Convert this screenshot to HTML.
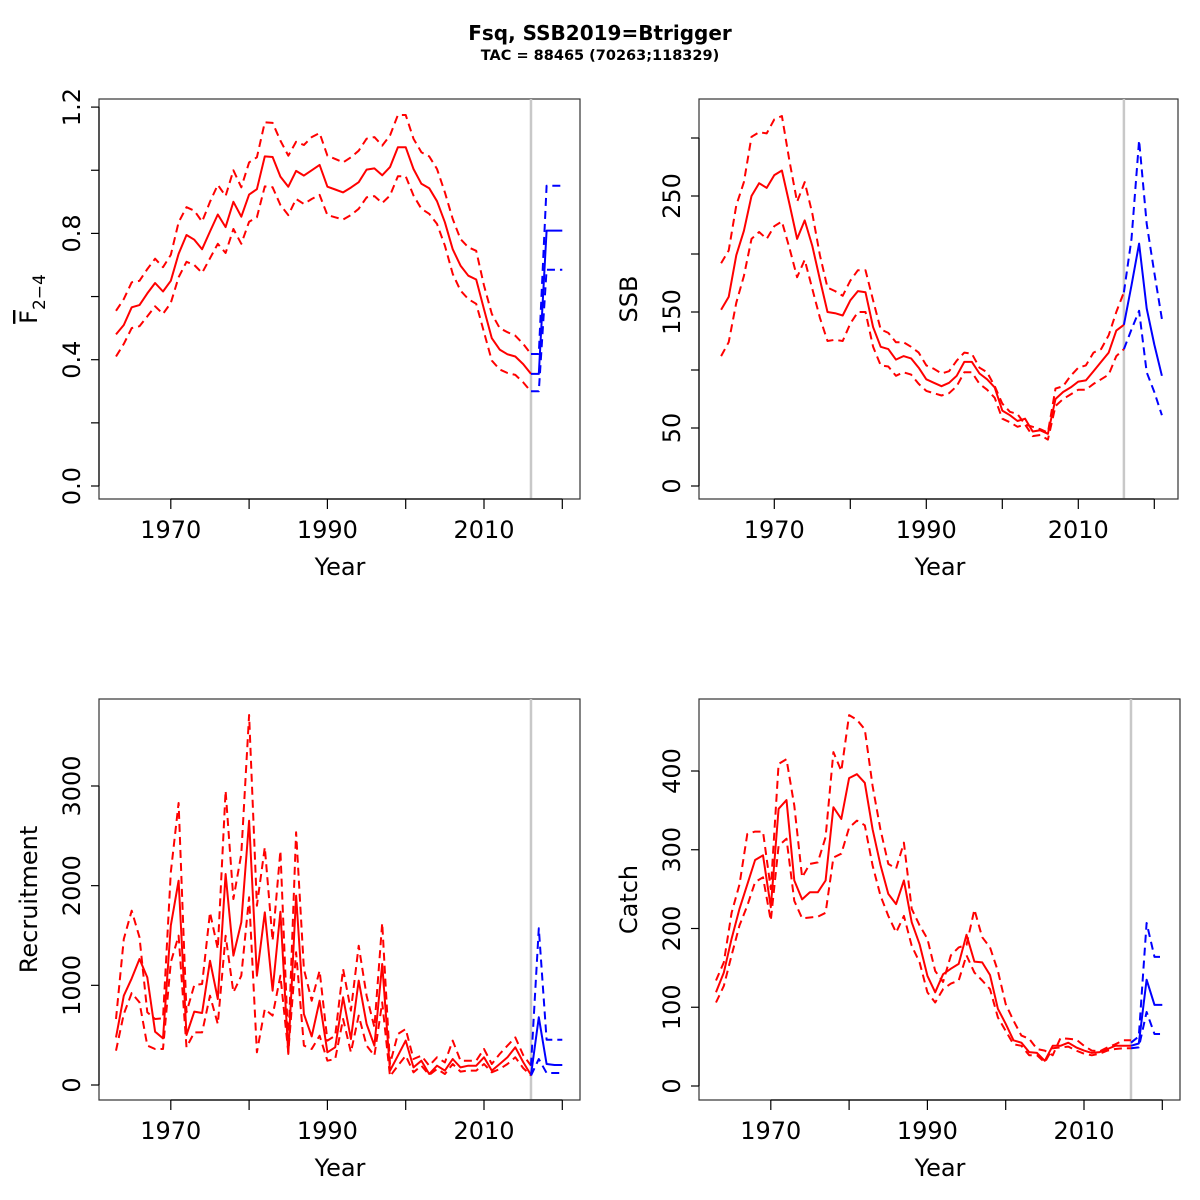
<!DOCTYPE html>
<html><head><meta charset="utf-8"><style>
html,body{margin:0;padding:0;background:#fff;}
svg{display:block;font-family:"DejaVu Sans","Liberation Sans",sans-serif;}
</style></head><body>
<svg id="chart" width="1200" height="1200" viewBox="0 0 1200 1200" xmlns="http://www.w3.org/2000/svg">
<rect width="1200" height="1200" fill="#fff"/>
<text x="600" y="40" text-anchor="middle" font-size="20" font-weight="bold">Fsq, SSB2019=Btrigger</text>
<text x="600" y="60" text-anchor="middle" font-size="14.5" font-weight="bold">TAC = 88465 (70263;118329)</text>
</svg>
<script>
const histStart = 1963;
const projStart = 2016;
// Panel 1: mean F (ages 2-4)
const fMid = [0.48,0.51,0.566,0.573,0.61,0.643,0.616,0.65,0.735,0.795,0.78,0.75,0.806,0.86,0.82,0.9,0.853,0.923,0.94,1.044,1.042,0.98,0.948,0.998,0.983,1.0,1.017,0.948,0.939,0.93,0.945,0.962,1.002,1.006,0.984,1.01,1.073,1.073,1.004,0.957,0.943,0.902,0.835,0.75,0.698,0.666,0.654,0.56,0.468,0.432,0.417,0.41,0.386,0.355];
const fUp = [0.555,0.592,0.645,0.65,0.687,0.72,0.693,0.732,0.835,0.883,0.872,0.837,0.9,0.954,0.918,1.0,0.946,1.025,1.041,1.152,1.15,1.094,1.046,1.09,1.08,1.105,1.118,1.046,1.036,1.025,1.041,1.062,1.1,1.105,1.078,1.11,1.175,1.175,1.1,1.057,1.044,1.004,0.93,0.846,0.782,0.756,0.745,0.635,0.545,0.5,0.487,0.476,0.45,0.418];
const fLo = [0.41,0.45,0.5,0.506,0.537,0.569,0.545,0.58,0.661,0.71,0.7,0.675,0.721,0.767,0.738,0.814,0.767,0.837,0.851,0.949,0.946,0.89,0.858,0.909,0.893,0.909,0.922,0.858,0.851,0.844,0.858,0.878,0.914,0.918,0.896,0.92,0.981,0.981,0.92,0.878,0.862,0.83,0.761,0.672,0.619,0.592,0.577,0.487,0.397,0.369,0.358,0.352,0.328,0.299];
const fProjMid = [0.355,0.355,0.809,0.809,0.809];
const fProjUp = [0.418,0.418,0.951,0.951,0.951];
const fProjLo = [0.3,0.3,0.685,0.685,0.685];
const fTicks = [0,0.2,0.4,0.6,0.8,1.0,1.2];
const fTickLabels = ["0.0","","0.4","","0.8","","1.2"];
// Panel 2: SSB
const ssbMid = [152,163,199,220,250,261,257,268,272,243,213,229,207,178,150,149,147,160,168,167,137,120,118,109,112,110,102,92,89,86,89,95,107,107,97,92,85,65,61,56,58,47,48,45,75,81,85,90,91,99,107,115,134,139];
const ssbUp = [192,203,242,262,301,305,304,316,319,280,245,262,235,199,171,168,164,177,186,186,160,135,132,124,124,120,115,104,101,97,99,108,115,114,102,98,86,71,64,62,53,51,49,46,84,86,95,102,104,115,118,130,150,167];
const ssbLo = [112,124,158,181,213,219,213,224,228,205,180,195,170,145,125,126,125,140,150,150,120,104,103,95,98,96,88,82,80,78,80,86,98,98,88,83,76,58,55,51,53,43,44,40,69,75,79,83,83,88,92,96,112,118];
const ssbProjMid = [139,173,209,153,122,95];
const ssbProjUp = [167,213,298,226,184,144];
const ssbProjLo = [118,135,151,98,81,61];
const ssbTicks = [0,50,100,150,200,250,300];
const ssbTickLabels = ["0","50","","150","","250",""];
// Panel 3: Recruitment
const recMid = [478,896,1070,1264,1080,535,468,1599,2050,502,736,722,1247,863,2117,1298,1632,2652,1097,1732,946,1739,311,1900,712,488,846,328,378,880,462,1047,612,395,1214,144,294,445,177,244,110,194,144,261,177,194,194,278,144,211,278,378,230,100];
const recUp = [662,1465,1749,1482,729,662,669,2134,2829,729,1003,1013,1732,1365,2953,1866,2318,3712,1799,2385,1448,2351,395,2535,1164,846,1147,445,495,1164,746,1398,896,579,1625,211,512,562,261,294,194,278,227,445,244,244,244,361,211,311,395,478,300,194];
const recLo = [344,712,923,829,395,361,361,1231,1498,378,528,528,896,612,1498,930,1097,1883,328,763,696,1097,328,1331,395,361,495,244,261,662,328,696,395,294,829,87,194,294,127,194,100,161,110,211,134,144,144,211,127,161,211,278,170,94];
const recProjMid = [100,679,211,201,201];
const recProjUp = [194,1572,455,455,455];
const recProjLo = [94,261,120,120,120];
const recTicks = [0,1000,2000,3000];
const recTickLabels = ["0","1000","2000","3000"];
// Panel 4: Catch
const catMid = [119,144,187,225,256,287,293,227,352,363,261,237,246,246,261,354,339,391,396,385,326,281,244,231,261,208,180,140,119,142,149,155,192,158,157,141,98,79,58,55,43,42,32,51,51,55,49,45,42,43,47,51,51,51];
const catUp = [134,157,220,256,320,323,323,250,409,415,356,265,282,284,316,424,400,471,465,453,381,326,282,276,309,225,204,187,146,132,166,176,179,224,189,176,146,104,83,64,60,47,45,39,61,60,59,51,45,44,49,53,58,58];
const catLo = [106,127,166,204,229,259,265,210,305,314,235,213,214,215,220,290,295,328,337,331,280,242,216,195,216,178,157,119,106,123,130,134,166,144,134,123,87,70,53,51,39,39,30,48,49,50,45,41,39,41,45,47,48,48];
const catProjMid = [51,54,135,103,103];
const catProjUp = [55,63,207,164,164];
const catProjLo = [48,49,94,66,66];
const catTicks = [0,100,200,300,400];
const catTickLabels = ["0","100","200","300","400"];

const xTicks = [1970,1980,1990,2000,2010,2020];
const xTickLabels = ["1970","","1990","","2010",""];

const NS = "http://www.w3.org/2000/svg";
const svg = document.getElementById('chart');
function mk(tag, attrs, parent){
  const e = document.createElementNS(NS, tag);
  for (const k in attrs) e.setAttribute(k, attrs[k]);
  (parent||svg).appendChild(e);
  return e;
}
function drawPanel(p){
  const g = mk('g', {});
  
  
  const xs = y => p.x1970 + (y - 1970) * p.xStep;
  const ys = v => p.y0 - v * p.yScale;
  const box = mk('rect', {x:p.bx, y:p.by, width:p.bw, height:p.bh, fill:'none', stroke:'#333', 'stroke-width':1.2}, g);
  
  
  const gl = mk('line', {x1:xs(projStart), x2:xs(projStart), y1:p.by, y2:p.by+p.bh, stroke:'#c8c8c8', 'stroke-width':2.5}, g);
  
  
  const xb = p.by + p.bh;
  const xa = mk('line', {x1:xs(xTicks[0]), x2:xs(xTicks[xTicks.length-1]), y1:xb, y2:xb, stroke:'#000', 'stroke-width':1.2}, g);
  
  
  xTicks.forEach((t,i) => {
    const tk = mk('line', {x1:xs(t), x2:xs(t), y1:xb, y2:xb+10, stroke:'#000', 'stroke-width':1.2}, g);
    
    
    if (xTickLabels[i]) {
      const tl = mk('text', {x:xs(t), y:xb+39, 'text-anchor':'middle', 'font-size':24}, g);
      tl.textContent = xTickLabels[i];
      
      
    }
  });
  const xt = mk('text', {x:p.bx + 241, y:xb+76, 'text-anchor':'middle', 'font-size':24}, g);
  xt.textContent = 'Year';
  
  
  const ya = mk('line', {x1:p.bx, x2:p.bx, y1:ys(p.ticks[0]), y2:ys(p.ticks[p.ticks.length-1]), stroke:'#000', 'stroke-width':1.2}, g);
  
  
  p.ticks.forEach((t,i) => {
    const tk = mk('line', {x1:p.bx-8, x2:p.bx, y1:ys(t), y2:ys(t), stroke:'#000', 'stroke-width':1.2}, g);
    
    
    if (p.labels[i]) {
      const lx = p.bx - 19, ly = ys(t);
      const tl = mk('text', {x:lx, y:ly, 'text-anchor':'middle', 'font-size':24, transform:`rotate(-90 ${lx} ${ly})`}, g);
      tl.textContent = p.labels[i];
      
      
    }
  });
  const tx = p.bx - 62, ty = p.by + p.bh/2;
  const yt = mk('text', {x:tx, y:ty, 'text-anchor':'middle', 'font-size':24, transform:`rotate(-90 ${tx} ${ty})`}, g);
  
  
  if (p.name === 'f') {
    const t1 = mk('tspan', {'text-decoration':'overline'}, yt); t1.textContent = 'F';
    const t2 = mk('tspan', {dy:8, 'font-size':17}, yt); t2.textContent = '2\u22124';
  } else yt.textContent = p.title;
  const series = [
    [p.hLo, histStart, 'red', true, 'hist-lower'],
    [p.hUp, histStart, 'red', true, 'hist-upper'],
    [p.hMid, histStart, 'red', false, 'hist-median'],
    [p.pLo, projStart, 'blue', true, 'proj-lower'],
    [p.pUp, projStart, 'blue', true, 'proj-upper'],
    [p.pMid, projStart, 'blue', false, 'proj-median']
  ];
  series.forEach(s => {
    const d = s[0].map((v,i) => (i?'L':'M') + xs(s[1]+i).toFixed(1) + ',' + ys(v).toFixed(1)).join(' ');
    const attrs = {d:d, fill:'none', stroke:s[2], 'stroke-width':2, 'stroke-linejoin':'round'};
    if (s[3]) attrs['stroke-dasharray'] = '8,5';
    const path = mk('path', attrs, g);
    
    
  });
}
drawPanel({name:'f', title:'F', bx:99, by:99, bw:481, bh:400, x1970:170.8, xStep:7.83, y0:486, yScale:315.75,
  ticks:fTicks, labels:fTickLabels, hMid:fMid, hUp:fUp, hLo:fLo, pMid:fProjMid, pUp:fProjUp, pLo:fProjLo});
drawPanel({name:'ssb', title:'SSB', bx:699, by:99, bw:479, bh:400, x1970:774.3, xStep:7.6, y0:486, yScale:1.16,
  ticks:ssbTicks, labels:ssbTickLabels, hMid:ssbMid, hUp:ssbUp, hLo:ssbLo, pMid:ssbProjMid, pUp:ssbProjUp, pLo:ssbProjLo});
drawPanel({name:'recruitment', title:'Recruitment', bx:99, by:699, bw:481, bh:401, x1970:170.8, xStep:7.83, y0:1085, yScale:0.09967,
  ticks:recTicks, labels:recTickLabels, hMid:recMid, hUp:recUp, hLo:recLo, pMid:recProjMid, pUp:recProjUp, pLo:recProjLo});
drawPanel({name:'catch', title:'Catch', bx:699, by:699, bw:481, bh:401, x1970:770.8, xStep:7.83, y0:1086, yScale:0.7875,
  ticks:catTicks, labels:catTickLabels, hMid:catMid, hUp:catUp, hLo:catLo, pMid:catProjMid, pUp:catProjUp, pLo:catProjLo});
</script>
</body></html>
